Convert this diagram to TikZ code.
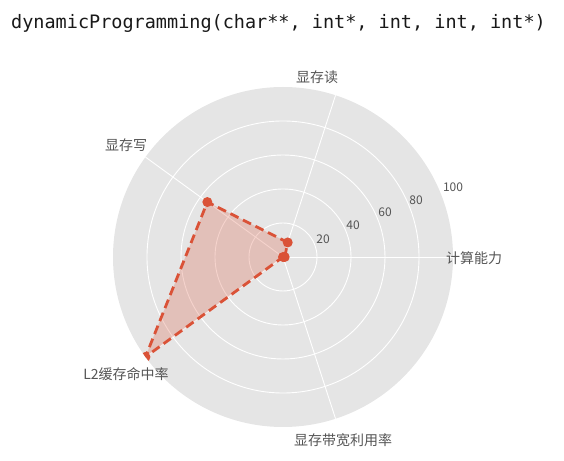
\documentclass[tikz,border=0pt]{standalone}
\usepackage{fontspec}
\setmainfont{Noto Sans CJK SC}
\newfontfamily\titlefont{DejaVu Sans Mono}
\definecolor{bggray}{HTML}{E5E5E5}
\definecolor{ggred}{HTML}{DA5237}
\definecolor{labgray}{HTML}{555555}
\tikzset{
  ringline/.style={draw=white, line width=0.9pt},
  spokeline/.style={draw=white, line width=0.9pt},
  axislabel/.style={text=labgray, font=\fontsize{14}{16}\selectfont, inner sep=0pt},
  ticklabel/.style={text=labgray, font=\fontsize{12}{14}\selectfont, inner sep=0pt},
  dataline/.style={draw=ggred, line width=2.8pt, dash pattern=on 9pt off 5pt, line join=round},
  datafill/.style={fill=ggred, fill opacity=0.25},
  datamark/.style={fill=ggred},
}
\begin{document}
\begin{tikzpicture}[x=1pt,y=1pt]
\useasboundingbox (0,0) rectangle (564,460);
% title
\node[anchor=base west, inner sep=0pt, font=\titlefont\fontsize{18.5}{20}\selectfont, text=black!90] (title) at (11,431) {dynamicProgramming(char**, int*, int, int, int*)};
% center
\coordinate (C) at (283,203);
% background disk
\fill[bggray] (C) circle[radius=170pt];
% rings
\foreach \r in {34,68,102,136} {
  \draw[ringline] (C) circle[radius=\r pt];
}
% spokes
\foreach \a in {0,72,144,216,288} {
  \draw[spokeline] (C) -- ([shift={(C)}]\a:170pt);
}
% tick labels
\node[ticklabel] (t20) at (323,221) {20};
\node[ticklabel] (t40) at (353,235) {40};
\node[ticklabel] (t60) at (385,248) {60};
\node[ticklabel] (t80) at (416,260) {80};
\node[ticklabel] (t100) at (453,273) {100};
% axis labels
\node[axislabel] (l0) at (474,202) {计算能力};
\node[axislabel] (l1) at (317,383) {显存读};
\node[axislabel] (l2) at (126,315) {显存写};
\node[axislabel] (l3) at (126,86) {L2缓存命中率};
\node[axislabel] (l4) at (343,20) {显存带宽利用率};
% data points
\coordinate (p0) at ([shift={(C)}]0:1.7pt);
\coordinate (p1) at ([shift={(C)}]72:15.3pt);
\coordinate (p2) at ([shift={(C)}]144:93.5pt);
\coordinate (p3) at ([shift={(C)}]216:170pt);
\coordinate (p4) at (C);
\begin{scope}
\clip (C) circle[radius=170pt];
\fill[datafill] (p0) -- (p1) -- (p2) -- (p3) -- (p4) -- cycle;
\draw[dataline] (p0) -- (p1) -- (p2) -- (p3) -- (p4) -- cycle;
\foreach \p in {p0,p1,p2,p3,p4} {
  \fill[datamark] (\p) circle[radius=5pt];
}
\end{scope}
\end{tikzpicture}
\end{document}
